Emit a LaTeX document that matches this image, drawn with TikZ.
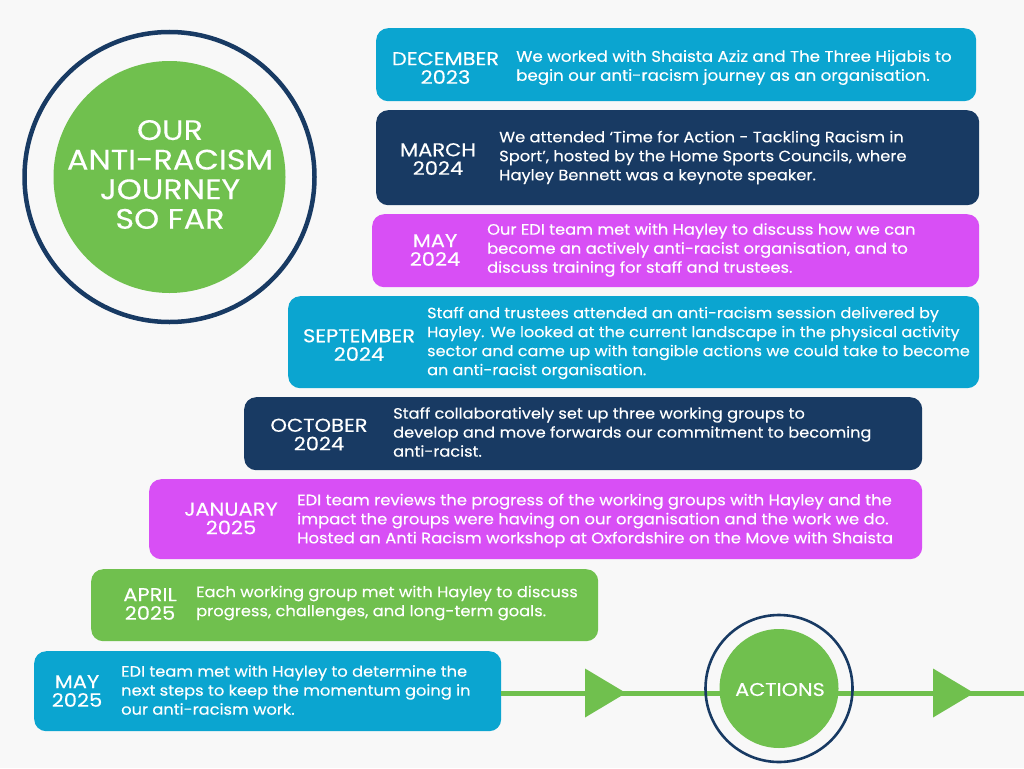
\documentclass[tikz,border=0pt]{standalone}
\usepackage{fontspec}
\setmainfont{Poppins}
\newfontfamily\bodyf[FakeStretch=1.08,FakeBold=0.25]{Poppins}
\newfontfamily\widef[FakeStretch=1.13,FakeBold=0.25]{Poppins}
\usetikzlibrary{calc}
\definecolor{bg}{HTML}{F8F8F8}
\definecolor{cblue}{HTML}{0BA5D0}
\definecolor{cnavy}{HTML}{183A63}
\definecolor{cpink}{HTML}{D84FF5}
\definecolor{cgreen}{HTML}{70C04E}
\tikzset{
  card/.style={rounded corners=12pt,inner sep=0pt,draw=none},
  datelabel/.style={text=white,align=center,inner sep=0pt,font=\widef\fontsize{18.6}{18.6}\selectfont},
  bodylabel/.style={text=white,align=left,anchor=west,inner sep=0pt,font=\bodyf\fontsize{15.2}{19}\selectfont},
  bodysize/.style={font=\bodyf\fontsize{#1}{19}\selectfont},
  tip/.style={fill=cgreen,draw=none},
}
\newcommand{\card}[9]{%
  \node[card,fill=#1,minimum width=#4-#2,minimum height=#5-#3,anchor=north west] (#6) at (#2,#3) {};
  \node[datelabel] (#6d) at (#7) {#8};
  \node[bodylabel] (#6b) at #9;
}
\begin{document}
\begin{tikzpicture}[x=1pt,y=-1pt]
\useasboundingbox[fill=bg] (0,0) rectangle (1024,768);

% big circle
\node[circle,draw=cnavy,line width=4.5pt,minimum size=290pt,inner sep=0pt] (bigring) at (169.5,177) {};
\node[circle,fill=cgreen,minimum size=232pt,inner sep=0pt] (title) at (169.5,177) {};
\node[text=white,align=center,inner sep=0pt,font=\widef\fontsize{28.2}{29.6}\selectfont] (titletext) at (170,174.5) {OUR\\ANTI-RACISM\\JOURNEY\\SO FAR};

% cards
\card{cblue}{376}{28}{976}{101}{c1}{445.5,68}{DECEMBER\\2023}{(516,67.5) [bodysize=15.42] {We worked with Shaista Aziz and The Three Hijabis to\\begin our anti-racism journey as an organisation.}}
\card{cnavy}{376}{110}{979}{205}{c2}{438,159}{MARCH\\2024}{(499,157.5) [bodysize=15.1] {We attended ‘Time for Action - Tackling Racism in\\Sport’, hosted by the Home Sports Councils, where\\Hayley Bennett was a keynote speaker.}}
\card{cpink}{372}{214}{979}{287}{c3}{435,250}{MAY\\2024}{(487,250) [bodysize=15.1] {Our EDI team met with Hayley to discuss how we can\\become an actively anti-racist organisation, and to\\discuss training for staff and trustees.}}
\card{cblue}{288}{296}{979}{388}{c4}{359,345}{SEPTEMBER\\2024}{(427,343) [bodysize=14.85] {Staff and trustees attended an anti-racism session delivered by\\Hayley. We looked at the current landscape in the physical activity\\sector and came up with tangible actions we could take to become\\an anti-racist organisation.}}
\card{cnavy}{244}{397}{922}{470}{c5}{319,434.5}{OCTOBER\\2024}{(393,432) [bodysize=15] {Staff collaboratively set up three working groups to\\develop and move forwards our commitment to becoming\\anti-racist.}}
\card{cpink}{149}{479}{922}{559}{c6}{231,518.5}{JANUARY\\2025}{(297,520.5) {EDI team reviews the progress of the working groups with Hayley and the\\impact the groups were having on our organisation and the work we do.\\Hosted an Anti Racism workshop at Oxfordshire on the Move with Shaista}}
\card{cgreen}{91}{569}{598}{641}{c7}{150,604}{APRIL\\2025}{(196,603) [bodysize=15.1] {Each working group met with Hayley to discuss\\progress, challenges, and long-term goals.}}
\card{cblue}{34}{651}{501}{731}{c8}{77,691}{MAY\\2025}{(121,690) [bodysize=15.05] {EDI team met with Hayley to determine the\\next steps to keep the momentum going in\\our anti-racism work.}}

% timeline
\coordinate (lineend) at (1024,693);
\coordinate (linestart) at (c8.east |- lineend);
\draw[cgreen,line width=5pt] (linestart) -- (lineend);
\coordinate (tipa) at (585,693);
\coordinate (tipb) at (933,693);
\fill[tip] ($(tipa)+(0,-24.5)$) -- ($(tipa)+(41,0)$) -- ($(tipa)+(0,24.5)$) -- cycle;
\fill[tip] ($(tipb)+(0,-24.5)$) -- ($(tipb)+(41,0)$) -- ($(tipb)+(0,24.5)$) -- cycle;

% actions circle
\node[circle,draw=cnavy,line width=2.6pt,minimum size=147pt,inner sep=0pt] (actring) at (779,688.5) {};
\node[circle,fill=cgreen,minimum size=119pt,inner sep=0pt] (actions) at (779,688.5) {};
\node[text=white,inner sep=0pt,font=\widef\fontsize{18.4}{19}\selectfont] (actionstext) at (780,689.5) {ACTIONS};
\end{tikzpicture}
\end{document}
